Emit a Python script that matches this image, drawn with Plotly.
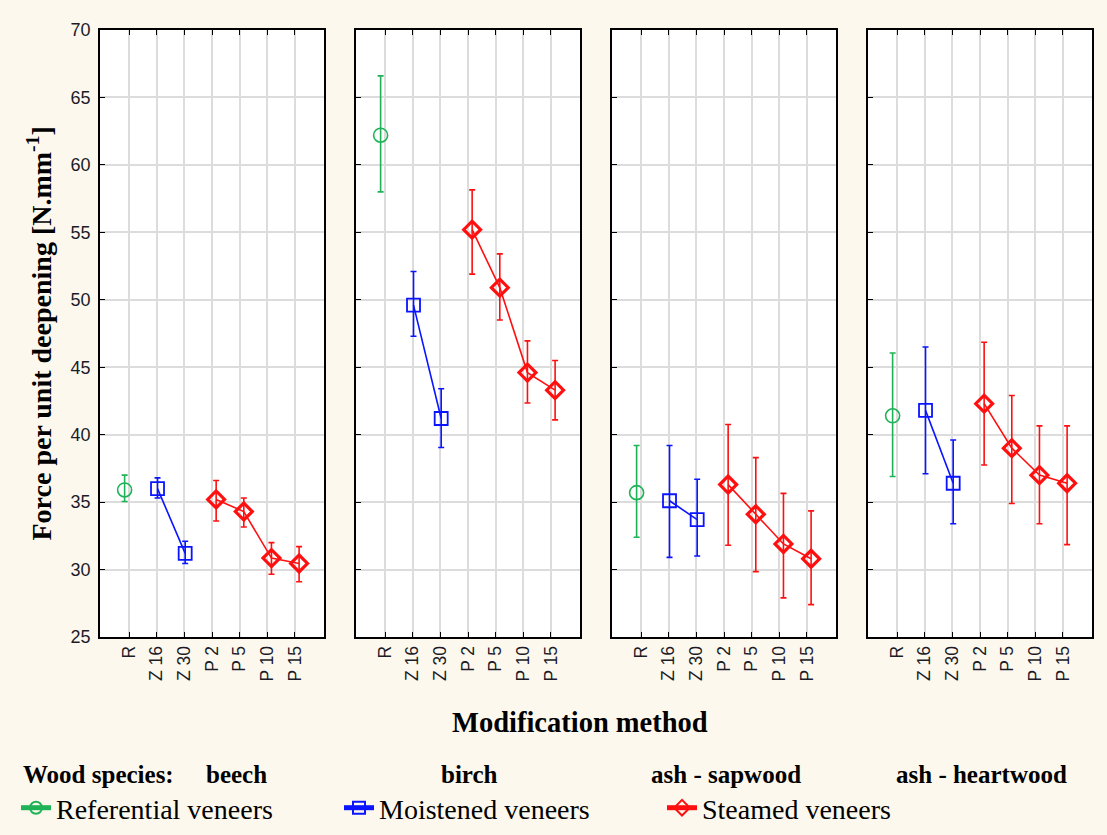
import plotly.graph_objects as go

categories = ["R", "Z 16", "Z 30", "P 2", "P 5", "P 10", "P 15"]
species = ["beech", "birch", "ash - sapwood", "ash - heartwood"]
series_names = ["Referential veneers", "Moistened veneers", "Steamed veneers"]
series_index = [[0], [1, 2], [3, 4, 5, 6]]

beech_mean = [35.9, 36.0, 31.2, 35.2, 34.3, 30.85, 30.45]
beech_upper = [37.0, 36.8, 32.1, 36.6, 35.3, 32.0, 31.7]
beech_lower = [35.05, 35.3, 30.45, 33.6, 33.15, 29.65, 29.1]

birch_mean = [62.2, 49.6, 41.2, 55.2, 50.9, 44.6, 43.3]
birch_upper = [66.6, 52.1, 43.4, 58.15, 53.4, 46.95, 45.5]
birch_lower = [58.0, 47.3, 39.05, 51.9, 48.5, 42.35, 41.1]

sap_mean = [35.7, 35.1, 33.7, 36.3, 34.1, 31.9, 30.8]
sap_upper = [39.2, 39.2, 36.7, 40.75, 38.3, 35.65, 34.35]
sap_lower = [32.4, 30.9, 31.0, 31.8, 29.85, 27.9, 27.4]

heart_mean = [41.4, 41.8, 36.4, 42.3, 39.0, 37.0, 36.4]
heart_upper = [46.05, 46.5, 39.6, 46.85, 42.9, 40.65, 40.65]
heart_lower = [36.9, 37.1, 33.4, 37.75, 34.9, 33.4, 31.85]

y_ticks = [25, 30, 35, 40, 45, 50, 55, 60, 65, 70]
y_half_ticks = [27.5, 32.5, 37.5, 42.5, 47.5, 52.5, 57.5, 62.5, 67.5]

means = [beech_mean, birch_mean, sap_mean, heart_mean]
uppers = [beech_upper, birch_upper, sap_upper, heart_upper]
lowers = [beech_lower, birch_lower, sap_lower, heart_lower]

colors = ["#1fb357", "#0a14ff", "#ff1010"]
symbols = ["circle-open", "square-open", "diamond-open"]
msizes = [14, 13, 13]
mlw = [1.6, 1.8, 3.2]
offsets = [-0.16, 0.03, 0.15]

W, H = 1107, 835
ML, MR, MT, MB = 100, 15, 30, 198
PW = W - ML - MR
PH = H - MT - MB
panel_w = 224
step = 256
BG = "#fdf8ee"

def px2x(px):
    return (px - ML) / PW

def py2y(py):
    return (H - MB - py) / PH

fig = go.Figure()
serif = "Liberation Serif"
sans = "Liberation Sans"
tick_color = "#1c1c28"

for p in range(4):
    xa = "x" if p == 0 else f"x{p+1}"
    ya = "y" if p == 0 else f"y{p+1}"
    for s in range(3):
        idx = series_index[s]
        xs = [i + offsets[s] for i in idx]
        ys = [means[p][i] for i in idx]
        up = [uppers[p][i] - means[p][i] for i in idx]
        dn = [means[p][i] - lowers[p][i] for i in idx]
        fig.add_trace(go.Scatter(
            x=xs, y=ys, xaxis=xa, yaxis=ya,
            mode="lines+markers",
            name=series_names[s], legendgroup=series_names[s],
            showlegend=(p == 0),
            line=dict(color=colors[s], width=1.6),
            marker=dict(symbol=symbols[s], size=msizes[s], color=colors[s],
                        line=dict(color=colors[s], width=mlw[s])),
            error_y=dict(type="data", array=up, arrayminus=dn, symmetric=False,
                         color=colors[s], thickness=1.6, width=3),
        ))

layout = dict(
    width=W, height=H,
    margin=dict(l=ML, r=MR, t=MT, b=MB, autoexpand=False),
    paper_bgcolor=BG, plot_bgcolor="white",
    showlegend=True,
    legend=dict(orientation="h", x=px2x(16), y=py2y(808), xanchor="left", yanchor="middle",
                font=dict(family=serif, size=28, color="black"),
                entrywidth=278, entrywidthmode="pixels", itemsizing="constant",
                bgcolor="rgba(0,0,0,0)"),
    font=dict(family=sans, color=tick_color),
)

for p in range(4):
    xk = "xaxis" if p == 0 else f"xaxis{p+1}"
    yk = "yaxis" if p == 0 else f"yaxis{p+1}"
    ya = "y" if p == 0 else f"y{p+1}"
    xa = "x" if p == 0 else f"x{p+1}"
    x0 = ML + p * step
    layout[xk] = dict(
        domain=[px2x(x0), px2x(x0 + panel_w)], anchor=ya,
        range=[-1.05, 7.05], tickvals=list(range(7)), ticktext=categories,
        tickangle=-90, ticks="inside", ticklen=5, tickcolor="black",
        showline=True, linecolor="black", linewidth=1.8, mirror="ticks",
        showgrid=True, gridcolor="#dcdcdc", gridwidth=2, zeroline=False,
        tickfont=dict(family=sans, size=17.5, color=tick_color),
    )
    layout[yk] = dict(
        domain=[0, 1], anchor=xa,
        range=[25, 70], tickvals=y_ticks,
        ticks="inside", ticklen=5, tickcolor="black",
        showticklabels=(p == 0), ticklabelstandoff=4,
        showline=True, linecolor="black", linewidth=1.8, mirror=True,
        showgrid=True, gridcolor="#dcdcdc", gridwidth=2, zeroline=False,
        tickfont=dict(family=sans, size=18, color=tick_color),
    )
    ok = f"yaxis{p+5}"
    layout[ok] = dict(
        overlaying=ya, anchor=xa, side="right", range=[25, 70],
        tickvals=y_half_ticks, ticks="inside", ticklen=5, tickcolor="black",
        showticklabels=False, showgrid=False, showline=False, zeroline=False,
    )

annotations = [
    dict(text="<b>Force per unit deepening [N.mm<sup>-1</sup>]</b>", x=px2x(40), y=0.5,
         xref="paper", yref="paper", textangle=-90, showarrow=False,
         font=dict(family=serif, size=28, color="black"), xanchor="center", yanchor="middle"),
    dict(text="<b>Modification method</b>", x=px2x(580), y=py2y(722), xref="paper", yref="paper",
         showarrow=False, font=dict(family=serif, size=28.5, color="black"), xanchor="center", yanchor="middle"),
    dict(text="<b>Wood species:</b>", x=px2x(21), y=py2y(774), xref="paper", yref="paper",
         showarrow=False, font=dict(family=serif, size=25, color="black"), xanchor="left", yanchor="middle"),
]
sp_x = [204, 439, 649, 894]
for name, sx in zip(species, sp_x):
    annotations.append(dict(text=f"<b>{name}</b>", x=px2x(sx), y=py2y(774), xref="paper", yref="paper",
                            showarrow=False, font=dict(family=serif, size=25, color="black"),
                            xanchor="left", yanchor="middle"))
layout["annotations"] = annotations

fig.update_layout(**layout)
fig.write_html("out.html", config={"displayModeBar": False},
               post_script=f"document.body.style.margin='0';document.body.style.background='{BG}';")
